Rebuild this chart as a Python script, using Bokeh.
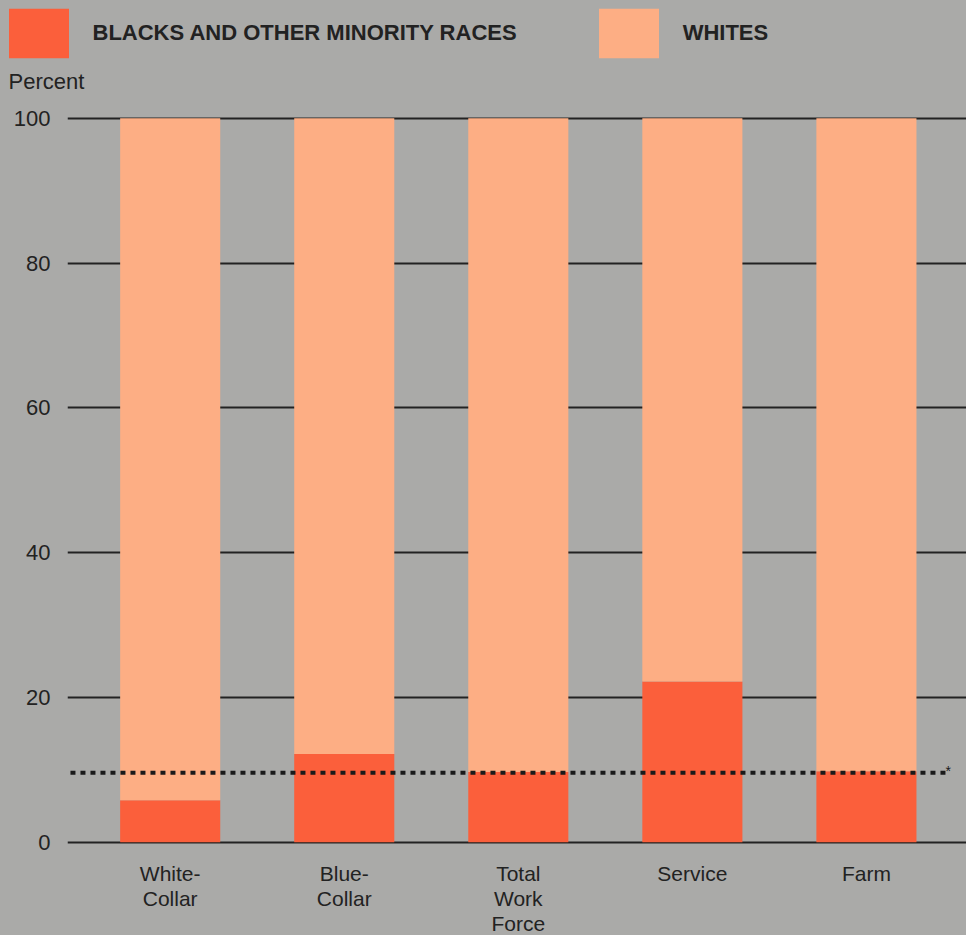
from bokeh.plotting import figure
from bokeh.layouts import column
from bokeh.models import (ColumnDataSource, Range1d, FixedTicker, Legend, LegendItem, Label)
from bokeh.embed import file_html
from bokeh.resources import INLINE

# ---- data ----
categories = ["White-\nCollar", "Blue-\nCollar", "Total\nWork\nForce", "Service", "Farm"]
minority_pct = [5.8, 12.2, 9.7, 22.2, 9.8]
white_pct = [100 - v for v in minority_pct]
workforce_minority_avg = 9.6
y_ticks = [0, 20, 40, 60, 80, 100]
series_names = ["BLACKS AND OTHER MINORITY RACES", "WHITES"]

# ---- style ----
BG = "#aaaaa8"
RED = "#fb5f3b"
PEACH = "#fdae84"
INK = "#222222"
FONT = "Liberation Sans"

# ---------------- header (legend + unit label) ----------------
head = figure(width=966, height=100, output_backend="svg", toolbar_location=None,
              x_range=Range1d(0, 966), y_range=Range1d(0, 100),
              min_border=0, min_border_left=0, min_border_right=0,
              min_border_top=0, min_border_bottom=0)
head.frame_align = False
head.axis.visible = False
head.grid.visible = False
head.background_fill_color = BG
head.border_fill_color = BG
head.outline_line_color = None

# zero-height swatch renderers that only feed the legend
swatch = ColumnDataSource(dict(x=[0], top=[0]))
r_min = head.vbar(x="x", top="top", width=1, source=swatch, color=RED, line_color=None)
r_wht = head.vbar(x="x", top="top", width=1, source=swatch, color=PEACH, line_color=None)

legend = Legend(items=[LegendItem(label=series_names[0], renderers=[r_min]),
                       LegendItem(label=series_names[1], renderers=[r_wht])],
                orientation="horizontal", location=(0.5, 36),
                glyph_width=75, glyph_height=62, label_standoff=17, spacing=74,
                padding=0, margin=0, border_line_color=None,
                background_fill_alpha=0,
                label_text_font=FONT, label_text_font_style="bold",
                label_text_font_size="22px", label_text_color=INK,
                label_height=40)
head.add_layout(legend, "center")

head.add_layout(Label(x=8, y=19, text="Percent", text_baseline="middle",
                      text_font=FONT, text_font_size="22px", text_color=INK))

# ---------------- main chart ----------------
xs = list(range(len(categories)))
src = ColumnDataSource(dict(x=xs, minority=minority_pct, whites=white_pct))

p = figure(frame_width=899, frame_height=739, output_backend="svg", toolbar_location=None,
           x_range=Range1d(-0.59, 4.575), y_range=Range1d(-1, 101.07),
           min_border_left=67, min_border_right=0, min_border_top=10, min_border_bottom=86)
p.frame_align = False
p.background_fill_color = BG
p.border_fill_color = BG
p.outline_line_color = None

p.vbar_stack(["minority", "whites"], x="x", width=0.575, source=src,
             color=[RED, PEACH], line_color=None)

# grid
p.xgrid.visible = False
p.ygrid.ticker = FixedTicker(ticks=y_ticks)
p.ygrid.grid_line_color = INK
p.ygrid.grid_line_width = 2

# y axis
p.yaxis.ticker = FixedTicker(ticks=y_ticks)
p.yaxis.axis_line_color = None
p.yaxis.major_tick_line_color = None
p.yaxis.minor_tick_line_color = None
p.yaxis.major_tick_out = 0
p.yaxis.major_tick_in = 0
p.yaxis.major_label_text_font = FONT
p.yaxis.major_label_text_font_size = "22px"
p.yaxis.major_label_text_color = INK
p.yaxis.major_label_standoff = 17

# x axis
p.xaxis.ticker = FixedTicker(ticks=xs)
p.xaxis.major_label_overrides = {i: c for i, c in enumerate(categories)}
p.xaxis.axis_line_color = None
p.xaxis.major_tick_line_color = None
p.xaxis.minor_tick_line_color = None
p.xaxis.major_tick_out = 0
p.xaxis.major_tick_in = 0
p.xaxis.major_label_text_font = FONT
p.xaxis.major_label_text_font_size = "21px"
p.xaxis.major_label_text_line_height = 1.1
p.xaxis.major_label_text_color = INK
p.xaxis.major_label_standoff = 12

# dotted average line
p.segment(x0=[-0.573], x1=[4.455], y0=[workforce_minority_avg], y1=[workforce_minority_avg],
          line_color="#1a1a1a", line_width=4, line_dash="5 5")
p.text(x=[4.47], y=[workforce_minority_avg + 0.3], text=["*"], text_font_size="14px",
       text_color="#1a1a1a", text_align="center", text_baseline="middle")

layout = column(head, p, spacing=0)
html = file_html(layout, INLINE)
html = html.replace("<head>", "<head><style>html,body{background:#aaaaa8;margin:0}</style>", 1)
open("out.html", "w").write(html)
